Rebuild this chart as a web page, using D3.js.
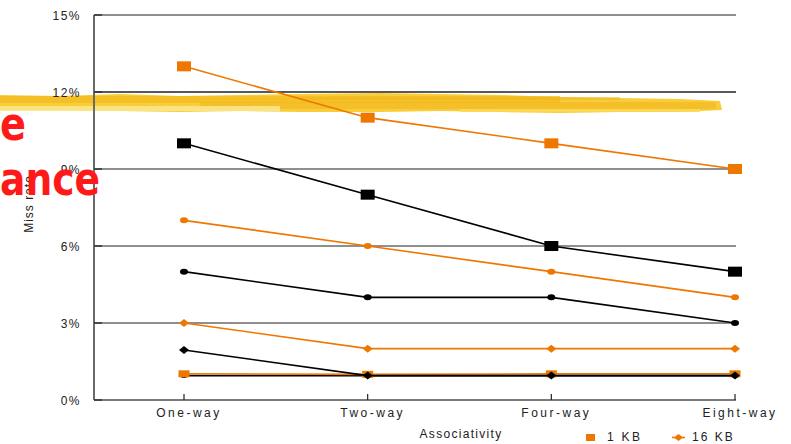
<!DOCTYPE html>
<html><head><meta charset="utf-8">
<script src="https://cdn.jsdelivr.net/npm/d3@7/dist/d3.min.js"></script>
<style>body{margin:0;background:#fff;}svg{display:block;}</style>
</head><body>
<svg id="c" width="791" height="444"></svg>
<script>
const categories = ["One-way", "Two-way", "Four-way", "Eight-way"];
const yTicks = [0, 3, 6, 9, 12, 15];
const seriesNames = ["1 KB", "2 KB", "4 KB", "8 KB", "16 KB", "32 KB", "64 KB", "128 KB"];
const kb1   = [13, 11, 10, 9];
const kb2   = [10, 8, 6, 5];
const kb4   = [7, 6, 5, 4];
const kb8   = [5, 4, 4, 3];
const kb16  = [3, 2, 2, 2];
const kb32  = [1.95, 0.95, 0.95, 0.95];
const kb64  = [1.02, 1.0, 1.02, 1.02];
const kb128 = [0.95, 0.95, 0.95, 0.95];
const legendShown = ["1 KB", "16 KB"];

const ORANGE = "#EE7700", BLACK = "#000";
const series = [
  {name: "128 KB", values: kb128, color: BLACK, marker: "circle", w: 7, h: 5},
  {name: "64 KB", values: kb64, color: ORANGE, marker: "square", w: 11, h: 7},
  {name: "32 KB", values: kb32, color: BLACK, marker: "diamond", w: 10, h: 8},
  {name: "16 KB", values: kb16, color: ORANGE, marker: "diamond", w: 10, h: 8},
  {name: "8 KB", values: kb8, color: BLACK, marker: "circle", w: 8, h: 6},
  {name: "4 KB", values: kb4, color: ORANGE, marker: "circle", w: 8, h: 6},
  {name: "2 KB", values: kb2, color: BLACK, marker: "square", w: 14, h: 10},
  {name: "1 KB", values: kb1, color: ORANGE, marker: "square", w: 14, h: 10}
];

const svg = d3.select("#c");
const x = d3.scalePoint().domain(categories).range([184, 735]);
const y = d3.scaleLinear().domain([0, 15]).range([400, 15]);
const left = 94, right = 736;
const FONT = "'Liberation Sans', Arial, sans-serif";

// gridlines
svg.append("g").selectAll("line").data(yTicks.filter(d => d > 0)).join("line")
  .attr("x1", left).attr("x2", right)
  .attr("y1", d => y(d)).attr("y2", d => y(d))
  .attr("stroke", d => d === 12 ? "#222" : "#6a6a6a").attr("stroke-width", 1.5);

// highlighter stroke (decoration)
const hl = svg.append("g");
const hlTop = [[0,95],[60,96],[120,94],[180,96],[240,95],[300,94],[380,93],[440,94],[500,95],[560,97],[620,98],[680,99],[720,101]];
const hlBot = [[722,110],[680,112],[620,112],[560,113],[500,112],[440,111],[380,112],[300,112],[240,111],[180,112],[120,111],[60,110],[0,110]];
hl.append("path").attr("d", "M" + hlTop.concat(hlBot).map(p => p.join(",")).join("L") + "Z")
  .attr("fill", "#F9CD3A");
const bands = [
  {y0: 96, y1: 103, x0: 0, x1: 560, c: "#F3BB1C", o: 0.7},
  {y0: 102, y1: 109, x0: 200, x1: 716, c: "#F0B519", o: 0.55},
  {y0: 106, y1: 111, x0: 0, x1: 280, c: "#FCE58A", o: 0.9},
  {y0: 97, y1: 100, x0: 300, x1: 620, c: "#EDB41C", o: 0.5},
  {y0: 109, y1: 112, x0: 460, x1: 700, c: "#FBD958", o: 0.9}
];
hl.selectAll("rect").data(bands).join("rect")
  .attr("x", d => d.x0).attr("y", d => d.y0)
  .attr("width", d => d.x1 - d.x0).attr("height", d => d.y1 - d.y0)
  .attr("fill", d => d.c).attr("opacity", d => d.o);

// axes
svg.append("line").attr("x1", left).attr("x2", left).attr("y1", y(15)).attr("y2", y(0))
  .attr("stroke", "#6a6a6a").attr("stroke-width", 2);
svg.append("line").attr("x1", left).attr("x2", right).attr("y1", y(0)).attr("y2", y(0))
  .attr("stroke", "#7a7a7a").attr("stroke-width", 2);
svg.append("g").selectAll("line").data(yTicks).join("line")
  .attr("x1", left).attr("x2", left + 8).attr("y1", d => y(d)).attr("y2", d => y(d))
  .attr("stroke", "#333").attr("stroke-width", 1.5);
svg.append("g").selectAll("line").data(categories).join("line")
  .attr("x1", d => x(d)).attr("x2", d => x(d)).attr("y1", y(0) - 6).attr("y2", y(0))
  .attr("stroke", "#222").attr("stroke-width", 1.2);

svg.append("g").selectAll("text").data(yTicks).join("text")
  .attr("x", 81).attr("y", d => y(d) + 4.5)
  .attr("text-anchor", "end").attr("font-family", FONT).attr("font-size", 12)
  .attr("letter-spacing", "1.5px").attr("fill", "#222")
  .text(d => d + "%");

svg.append("g").selectAll("text").data(categories).join("text")
  .attr("x", d => x(d) + 5).attr("y", 417)
  .attr("text-anchor", "middle").attr("font-family", FONT).attr("font-size", 12)
  .attr("letter-spacing", "2.5px").attr("fill", "#222")
  .text(d => d);

svg.append("text").attr("x", 461).attr("y", 438).attr("text-anchor", "middle")
  .attr("font-family", FONT).attr("font-size", 12).attr("letter-spacing", "1.3px")
  .attr("fill", "#222").text("Associativity");

svg.append("text").attr("transform", "translate(33,204) rotate(-90)")
  .attr("text-anchor", "middle").attr("font-family", FONT).attr("font-size", 12)
  .attr("letter-spacing", "1px").attr("fill", "#222").text("Miss rate");

// series
const line = d3.line().x((d, i) => x(categories[i])).y(d => y(d));
function drawMarker(g, s, cx, cy) {
  if (s.marker === "square") {
    g.append("rect").attr("x", cx - s.w / 2).attr("y", cy - s.h / 2)
      .attr("width", s.w).attr("height", s.h).attr("fill", s.color);
  } else if (s.marker === "circle") {
    g.append("ellipse").attr("cx", cx).attr("cy", cy).attr("rx", s.w / 2).attr("ry", s.h / 2)
      .attr("fill", s.color);
  } else {
    g.append("path").attr("d", `M${cx - s.w / 2},${cy} L${cx},${cy - s.h / 2} L${cx + s.w / 2},${cy} L${cx},${cy + s.h / 2} Z`)
      .attr("fill", s.color);
  }
}
series.forEach(s => {
  const g = svg.append("g");
  g.append("path").datum(s.values).attr("d", line).attr("fill", "none")
    .attr("stroke", s.color).attr("stroke-width", 1.6);
  s.values.forEach((v, i) => drawMarker(g, s, x(categories[i]), y(v)));
});

// legend (visible portion)
const lg = svg.append("g");
const sq = series.find(s => s.name === legendShown[0]);
lg.append("rect").attr("x", 586).attr("y", 434).attr("width", 9).attr("height", 7).attr("fill", sq.color);
lg.append("text").attr("x", 607).attr("y", 441).attr("font-family", FONT).attr("font-size", 12)
  .attr("letter-spacing", "2.3px").attr("fill", "#222").text(legendShown[0]);
const dm = series.find(s => s.name === legendShown[1]);
lg.append("line").attr("x1", 672).attr("x2", 685).attr("y1", 437.5).attr("y2", 437.5)
  .attr("stroke", dm.color).attr("stroke-width", 1.6);
drawMarker(lg, {marker: "diamond", color: dm.color, w: 9, h: 7}, 678.5, 437.5);
lg.append("text").attr("x", 692).attr("y", 441).attr("font-family", FONT).attr("font-size", 12)
  .attr("letter-spacing", "2px").attr("fill", "#222").text(legendShown[1]);

// overlaid slide title fragments
svg.append("text").attr("x", 0).attr("y", 140)
  .attr("font-family", "'DejaVu Sans', sans-serif").attr("font-weight", "bold")
  .attr("font-size", 46).attr("fill", "#FF1A1A")
  .attr("textLength", 26).attr("lengthAdjust", "spacingAndGlyphs").text("e");
svg.append("text").attr("x", 0).attr("y", 195)
  .attr("font-family", "'DejaVu Sans', sans-serif").attr("font-weight", "bold")
  .attr("font-size", 46).attr("fill", "#FF1A1A")
  .attr("textLength", 100).attr("lengthAdjust", "spacingAndGlyphs").text("ance");
</script>
</body></html>
